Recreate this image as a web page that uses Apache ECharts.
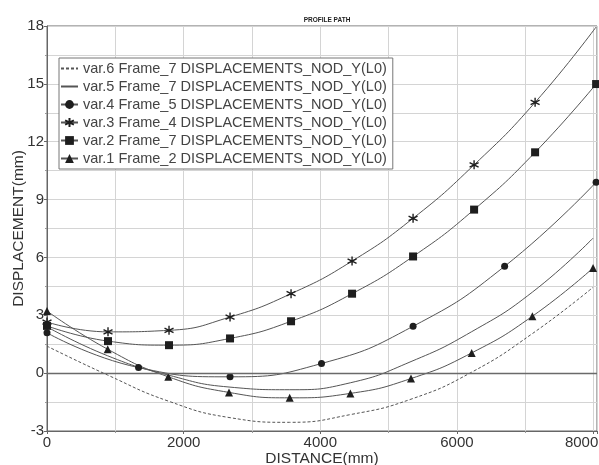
<!DOCTYPE html>
<html>
<head>
<meta charset="utf-8">
<script src="https://cdn.jsdelivr.net/npm/echarts@6/dist/echarts.min.js"></script>
<style>
html, body { margin: 0; padding: 0; background: #fff; }
#main { width: 599px; height: 465px; }
</style>
</head>
<body>
<div id="main"></div>
<script>
var dom = document.getElementById('main');
var myChart = echarts.init(dom);
var option;

// legend names, top to bottom
var seriesNames = [
    'var.6 Frame_7 DISPLACEMENTS_NOD_Y(L0)',
    'var.5 Frame_7 DISPLACEMENTS_NOD_Y(L0)',
    'var.4 Frame_5 DISPLACEMENTS_NOD_Y(L0)',
    'var.3 Frame_4 DISPLACEMENTS_NOD_Y(L0)',
    'var.2 Frame_7 DISPLACEMENTS_NOD_Y(L0)',
    'var.1 Frame_2 DISPLACEMENTS_NOD_Y(L0)'
];

// distances (mm) where the values were read
var xA = [0, 888, 1776, 2664, 3552, 4440, 5328, 6216, 7104, 7992];
var xB = [0, 893, 1786, 2679, 3572, 4465, 5358, 6251, 7144, 8037];
var xC = [0, 1340, 2679, 4018, 5358, 6698, 8037];

// displacements (mm)
var var6 = [1.4, -0.1, -1.45, -2.3, -2.55, -2.15, -1.35, 0.05, 2.05, 4.45];
var var5 = [2.4, 0.9, -0.1, -0.72, -0.86, -0.5, 0.6, 2.15, 4.2, 7.0];
var var4 = [2.09, 0.29, -0.19, 0.5, 2.43, 5.54, 9.9];
var var3 = [2.65, 2.14, 2.22, 2.91, 4.12, 5.81, 8.03, 10.8, 14.04, 17.95];
var var2 = [2.45, 1.66, 1.45, 1.8, 2.69, 4.12, 6.05, 8.48, 11.45, 14.99];
var var1 = [3.22, 1.24, -0.19, -1.0, -1.28, -1.05, -0.28, 1.05, 2.95, 5.45];

var font = 'Liberation Sans';
var lineColor = '#555';
var markColor = '#1e1e1e';
var starPath = 'path://M5 0L5 10M0.7 2.5L9.3 7.5M0.7 7.5L9.3 2.5';

function pairs(xs, ys) {
    return xs.map(function (x, i) { return [x, ys[i]]; });
}

function makeSeries(name, xs, ys, symbol, size, extra) {
    var s = {
        name: name,
        type: 'line',
        data: pairs(xs, ys),
        smooth: 0.5,
        symbol: symbol,
        symbolSize: size,
        showSymbol: size > 0,
        lineStyle: { color: lineColor, width: 1 },
        itemStyle: { color: markColor, borderColor: markColor, borderWidth: 0 },
        emphasis: { disabled: true },
        z: 3
    };
    for (var k in extra) s[k] = extra[k];
    return s;
}

var starData = pairs(xB, var3);
starData[starData.length - 1] = { value: starData[starData.length - 1], symbol: 'none' };

var series = [
    makeSeries(seriesNames[0], xA, var6, 'circle', 0, {
        lineStyle: { color: lineColor, width: 1, type: [3, 2] },
        markLine: {
            silent: true,
            symbol: 'none',
            label: { show: false },
            lineStyle: { color: '#6a6a6a', width: 1.3, type: 'solid' },
            data: [{ yAxis: 0 }]
        }
    }),
    makeSeries(seriesNames[1], xA, var5, 'circle', 0, {}),
    makeSeries(seriesNames[2], xC, var4, 'circle', 7, {}),
    makeSeries(seriesNames[3], xB, var3, starPath, 9, {
        data: starData,
        itemStyle: { color: markColor, borderColor: markColor, borderWidth: 1.4 }
    }),
    makeSeries(seriesNames[4], xB, var2, 'rect', 8, {}),
    makeSeries(seriesNames[5], xA, var1, 'triangle', 8, {})
];

// the two plain lines get no symbol in the legend
var hiddenIcon = { opacity: 0, borderWidth: 0 };
var legendData = seriesNames.map(function (n, i) {
    return i < 2 ? { name: n, itemStyle: hiddenIcon } : { name: n };
});

option = {
    backgroundColor: '#fff',
    animation: false,
    title: {
        text: 'PROFILE PATH',
        left: 322,
        top: 12,
        textAlign: 'center',
        textStyle: { fontFamily: font, fontSize: 6.5, fontWeight: 'bold', color: '#222' }
    },
    legend: {
        orient: 'vertical',
        left: 59,
        top: 58,
        data: legendData,
        itemWidth: 17,
        itemHeight: 11,
        itemGap: 3,
        padding: [3, 6, 3, 1],
        borderColor: '#777',
        borderWidth: 1,
        borderRadius: 0,
        backgroundColor: '#fff',
        textStyle: { fontFamily: font, fontSize: 14.5, color: '#444' }
    },
    grid: {
        left: 47,
        right: 2,
        top: 26,
        bottom: 34,
        outerBoundsMode: 'none',
        show: true,
        borderColor: '#666',
        borderWidth: 1
    },
    xAxis: {
        type: 'value',
        min: 0,
        max: 8050,
        interval: 2000,
        name: 'DISTANCE(mm)',
        nameLocation: 'middle',
        nameGap: 20,
        nameMoveOverlap: false,
        nameTextStyle: { fontFamily: font, fontSize: 15.5, color: '#333', verticalAlign: 'top' },
        axisLine: { show: true, onZero: false, lineStyle: { color: '#666', width: 1 } },
        axisTick: { show: true, length: 3, lineStyle: { color: '#666' } },
        minorTick: { show: true, splitNumber: 2, length: 2, lineStyle: { color: '#999' } },
        axisLabel: {
            fontFamily: font,
            fontSize: 15,
            color: '#333',
            margin: 4,
            formatter: function (v) {
                return v === 8000 ? '{r|8000}' : String(v);
            },
            rich: { r: { fontFamily: font, fontSize: 15, color: '#333', padding: [0, 24, 0, 0] } }
        },
        splitLine: { show: true, lineStyle: { color: '#d4d4d4', width: 1 } },
        minorSplitLine: { show: true, lineStyle: { color: '#d4d4d4', width: 1 } }
    },
    yAxis: {
        type: 'value',
        min: -3,
        max: 18,
        interval: 3,
        name: 'DISPLACEMENT(mm)',
        nameLocation: 'middle',
        nameGap: 20,
        nameMoveOverlap: false,
        nameTextStyle: { fontFamily: font, fontSize: 15.5, color: '#333' },
        axisLine: { show: true, lineStyle: { color: '#666', width: 1 } },
        axisTick: { show: true, length: 3, lineStyle: { color: '#666' } },
        minorTick: { show: true, splitNumber: 2, length: 2, lineStyle: { color: '#999' } },
        axisLabel: { fontFamily: font, fontSize: 15, color: '#333', margin: 3 },
        splitLine: { show: true, lineStyle: { color: '#d4d4d4', width: 1 } },
        minorSplitLine: { show: true, lineStyle: { color: '#d4d4d4', width: 1 } }
    },
    series: series
};

myChart.setOption(option);
</script>
</body>
</html>
